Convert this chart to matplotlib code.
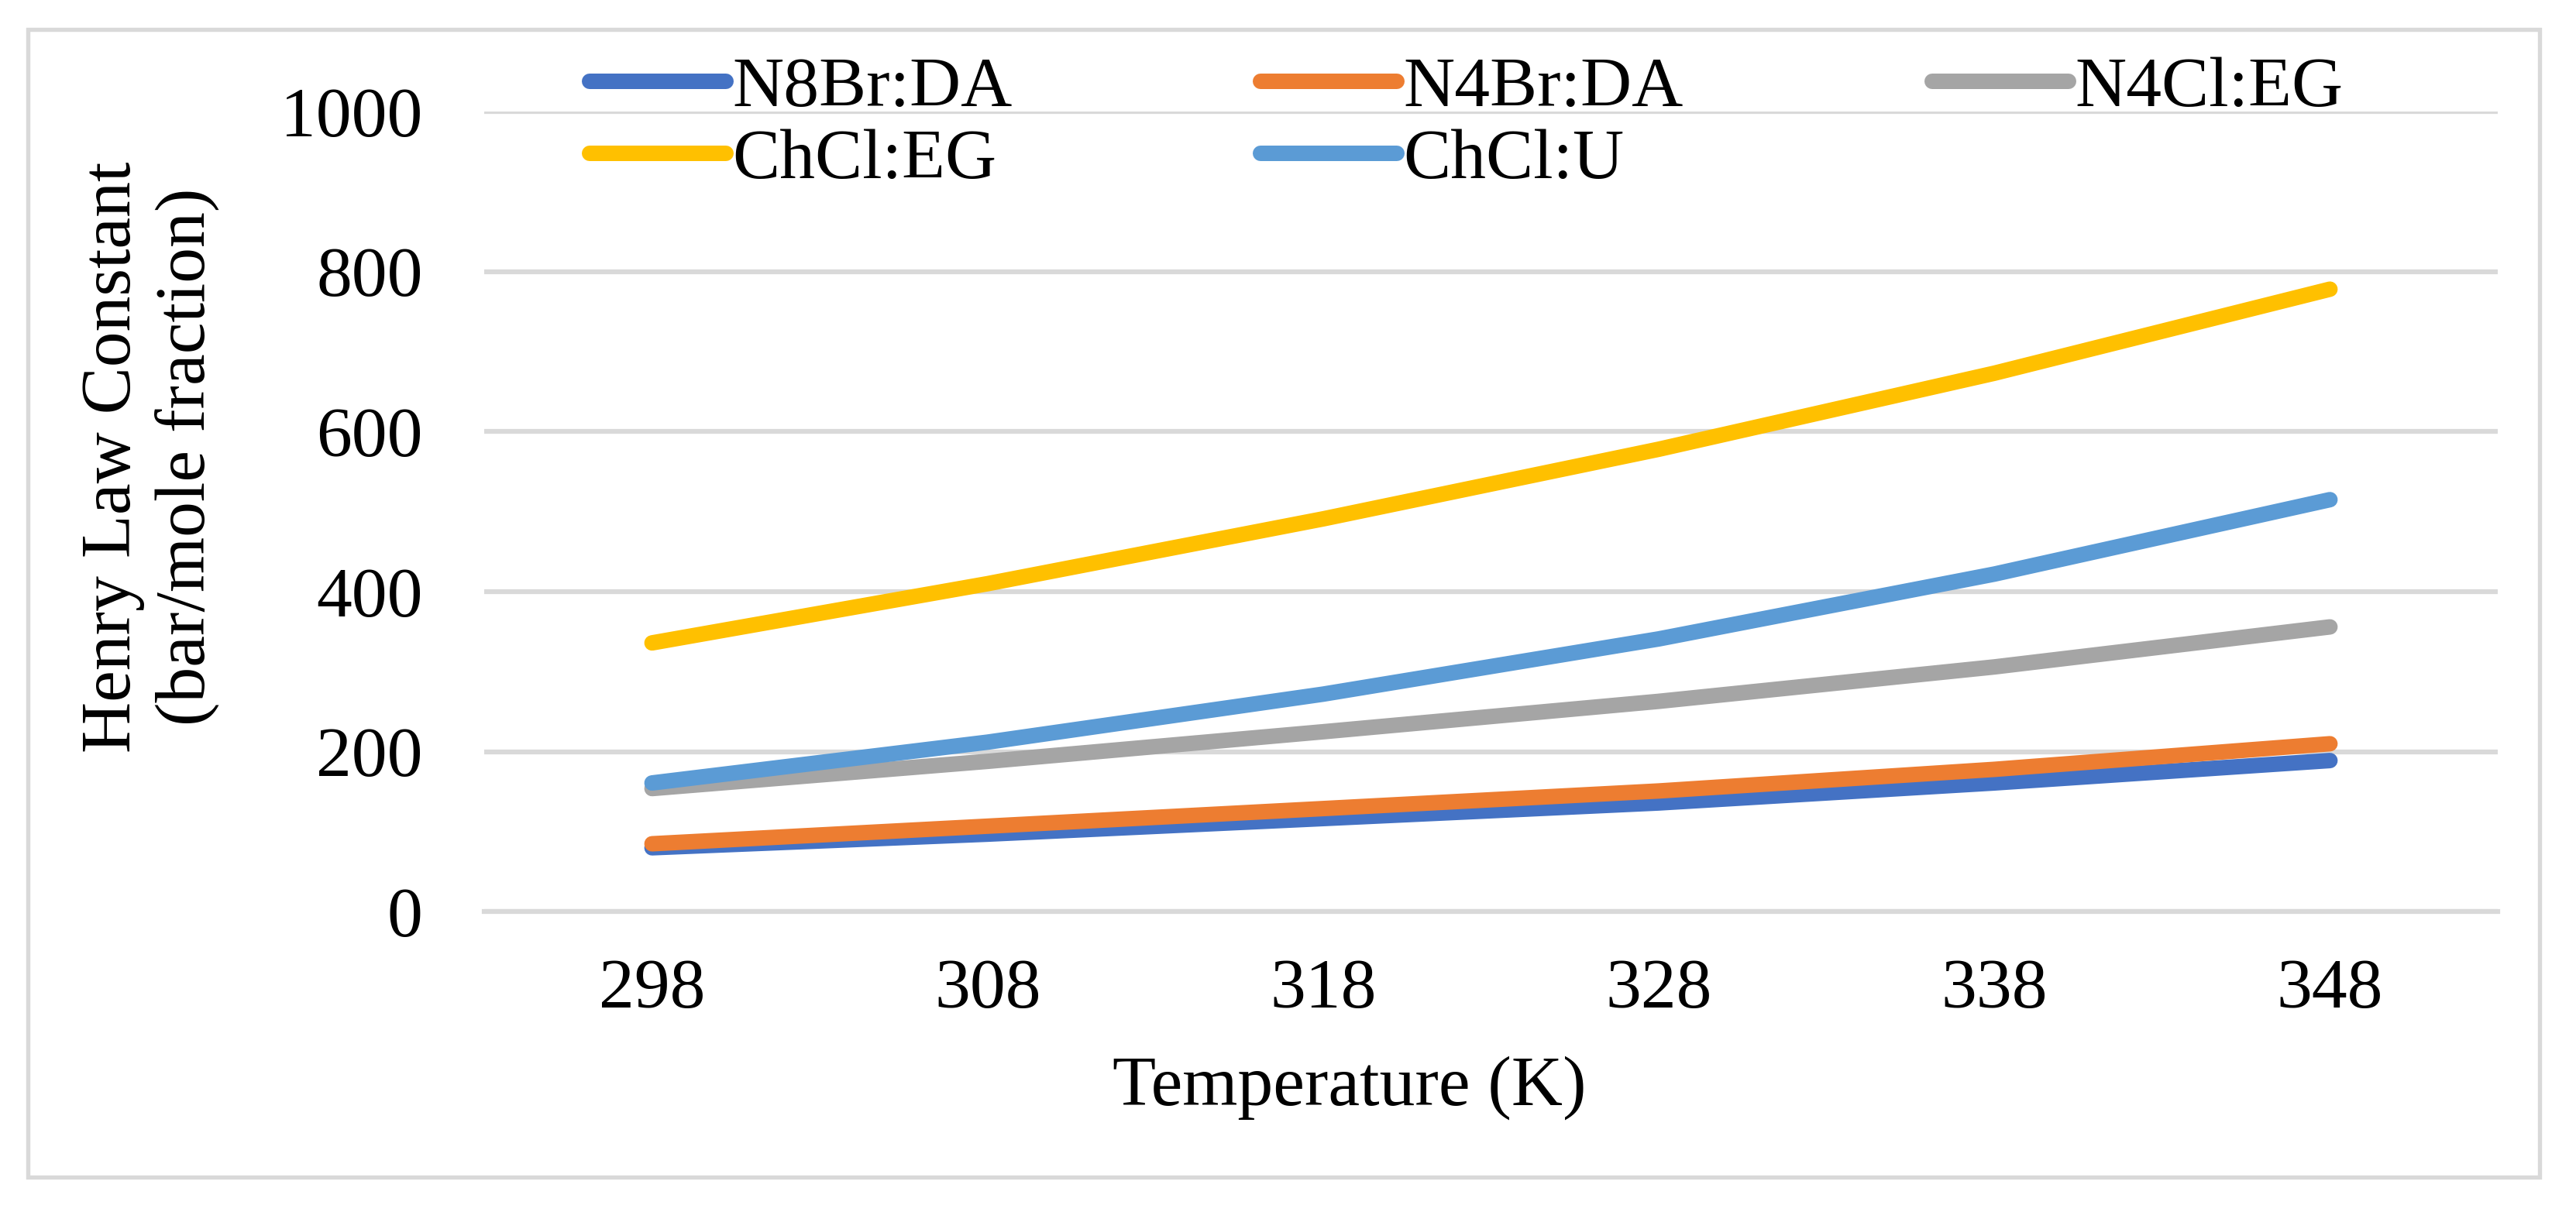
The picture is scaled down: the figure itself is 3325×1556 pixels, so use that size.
import matplotlib
matplotlib.use("Agg")
import matplotlib.pyplot as plt
from matplotlib.patches import Rectangle

# ---- data ----
temperatures = ["298", "308", "318", "328", "338", "348"]
series_names = ["N8Br:DA", "N4Br:DA", "N4Cl:EG", "ChCl:EG", "ChCl:U"]
n8br_da = [80, 97, 116.5, 136, 161, 189]
n4br_da = [85, 107, 129, 151, 178, 210]
n4cl_eg = [154, 188, 225, 263, 306, 356]
chcl_eg = [336, 410, 491, 578, 673, 778]
chcl_u = [161, 212, 272, 341, 422, 515]
y_ticks = [0, 200, 400, 600, 800, 1000]

colors = ["#4472C4", "#ED7D31", "#A5A5A5", "#FFC000", "#5B9BD5"]
values = [n8br_da, n4br_da, n4cl_eg, chcl_eg, chcl_u]

W, H = 3325, 1556
DPI = 300
plt.rcParams["font.family"] = ["Liberation Serif", "DejaVu Serif"]
FS = 22

fig = plt.figure(figsize=(W / DPI, H / DPI), dpi=DPI)
fig.patch.set_facecolor("white")

# outer chart border
fig.patches.append(Rectangle((36 / W, 1 - 1520 / H), (3278 - 36) / W, (1520 - 38) / H,
                             transform=fig.transFigure, fill=False,
                             edgecolor="#D9D9D9", linewidth=1.3))

left, right = 625, 3224
top, bottom = 144, 1177.4
ax = fig.add_axes([left / W, 1 - bottom / H, (right - left) / W, (bottom - top) / H])

x = list(range(len(temperatures)))
handles = []
for name, vals, c in zip(series_names, values, colors):
    h, = ax.plot(x, vals, color=c, linewidth=4.8, solid_capstyle="round",
                 solid_joinstyle="round", label=name, zorder=3)
    handles.append(h)

ax.set_xlim(-0.5, len(temperatures) - 0.5)
ax.set_ylim(0, 1000)
ax.set_xticks(x)
ax.set_xticklabels(temperatures)
ax.set_yticks(y_ticks)
ax.set_yticklabels([str(v) for v in y_ticks])
ax.tick_params(axis="both", length=0, labelsize=FS)
ax.tick_params(axis="y", pad=19)
ax.tick_params(axis="x", pad=14.5)
ax.yaxis.grid(True, color="#D9D9D9", linewidth=1.5, zorder=0)
ax.set_axisbelow(True)
for s in ["top", "right", "left"]:
    ax.spines[s].set_visible(False)
ax.spines["bottom"].set_color("#D9D9D9")
ax.spines["bottom"].set_linewidth(1.5)
ax.set_facecolor("none")

# axis titles
fig.text(194 / W, 1 - 590 / H, "Henry Law Constant\n(bar/mole fraction)", rotation=90,
         ha="center", va="center", fontsize=FS, multialignment="center", linespacing=1.2)
fig.text(1742 / W, 1 - 1405 / H, "Temperature (K)", ha="center", va="center", fontsize=FS)

# legend: matplotlib fills column-wise, reorder so that rows read like the reference
order = [0, 3, 1, 4, 2]
leg = fig.legend(handles=[handles[i] for i in order],
                 labels=[series_names[i] for i in order], ncol=3, loc="upper left",
                 bbox_to_anchor=(761 / W, 1 - 73 / H), frameon=False, fontsize=FS,
                 borderpad=0, borderaxespad=0, handlelength=1.92, handletextpad=0.09,
                 columnspacing=3.5, labelspacing=0.11)
for lh in leg.get_lines():
    lh.set_linewidth(4.8)
    lh.set_solid_capstyle("round")

fig.savefig("out.png", dpi=DPI, facecolor="white")
